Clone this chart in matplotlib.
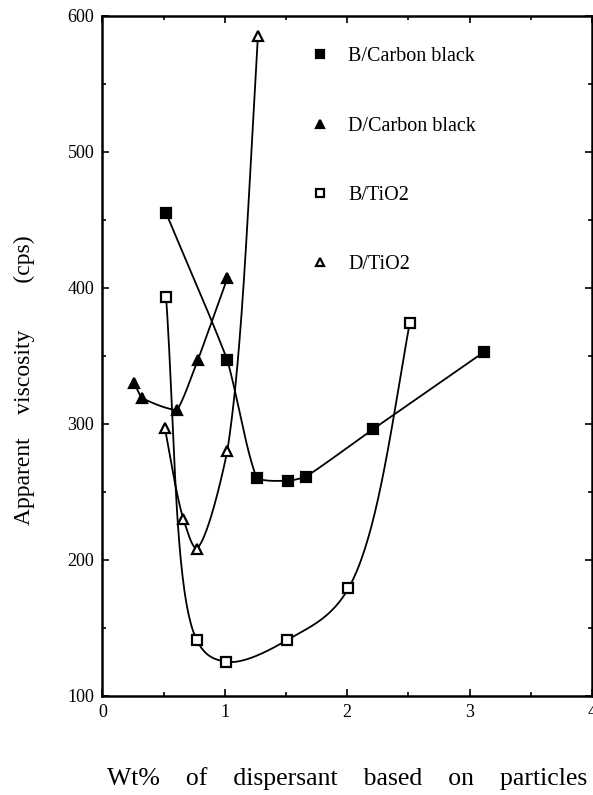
import numpy as np
import matplotlib
matplotlib.use("Agg")
import matplotlib.pyplot as plt
from matplotlib.lines import Line2D
from matplotlib.ticker import MultipleLocator

plt.rcParams['font.family'] = ['Liberation Serif', 'DejaVu Serif']

# dispersant B / D on carbon black and on TiO2
b_cb_x = [0.52, 1.02, 1.26, 1.52, 1.66, 2.21, 3.12]
b_cb_y = [455, 347, 260, 258, 261, 296, 353]
d_cb_x = [0.26, 0.32, 0.61, 0.78, 1.02]
d_cb_y = [330, 319, 310, 347, 407]
b_ti_x = [0.52, 0.77, 1.01, 1.51, 2.01, 2.51]
b_ti_y = [393, 141, 125, 141, 179, 374]
d_ti_x = [0.51, 0.66, 0.77, 1.02, 1.27]
d_ti_y = [297, 230, 208, 280, 585]

labels = ['B/Carbon black', 'D/Carbon black', 'B/TiO2', 'D/TiO2']

XLIM = (0, 4)
YLIM = (100, 600)


def smooth(x, y, k=1.0, quad_ends=False, n=40):
    # centripetal Catmull-Rom through the points (axis-normalised units),
    # blended with the straight polyline by k (0 = straight, 1 = full curve)
    px = (np.asarray(x, float) - XLIM[0]) / (XLIM[1] - XLIM[0])
    py = (np.asarray(y, float) - YLIM[0]) / (YLIM[1] - YLIM[0])
    P = np.column_stack([px, py])
    if quad_ends and len(P) > 2:
        head = 3 * P[0] - 3 * P[1] + P[2]
        tail = 3 * P[-1] - 3 * P[-2] + P[-3]
    else:
        head = 2 * P[0] - P[1]
        tail = 2 * P[-1] - P[-2]
    P = np.vstack([head, P, tail])
    out = []
    for i in range(1, len(P) - 2):
        p0, p1, p2, p3 = P[i - 1], P[i], P[i + 1], P[i + 2]
        t0 = 0.0
        t1 = t0 + np.linalg.norm(p1 - p0) ** 0.5
        t2 = t1 + np.linalg.norm(p2 - p1) ** 0.5
        t3 = t2 + np.linalg.norm(p3 - p2) ** 0.5
        t = np.linspace(t1, t2, n)[:, None]
        a1 = (t1 - t) / (t1 - t0) * p0 + (t - t0) / (t1 - t0) * p1
        a2 = (t2 - t) / (t2 - t1) * p1 + (t - t1) / (t2 - t1) * p2
        a3 = (t3 - t) / (t3 - t2) * p2 + (t - t2) / (t3 - t2) * p3
        b1 = (t2 - t) / (t2 - t0) * a1 + (t - t0) / (t2 - t0) * a2
        b2 = (t3 - t) / (t3 - t1) * a2 + (t - t1) / (t3 - t1) * a3
        c = (t2 - t) / (t2 - t1) * b1 + (t - t1) / (t2 - t1) * b2
        u = (t - t1) / (t2 - t1)
        lin = p1 + u * (p2 - p1)
        c = lin + k * (c - lin)
        out.append(c if i == 1 else c[1:])
    c = np.vstack(out)
    return (c[:, 0] * (XLIM[1] - XLIM[0]) + XLIM[0],
            c[:, 1] * (YLIM[1] - YLIM[0]) + YLIM[0])


fig = plt.figure(figsize=(5.93, 7.95), dpi=100)
ax = fig.add_axes([0.1728, 0.1249, 0.8255, 0.855])

series = [
    (b_cb_x, b_cb_y, 's', 'black', 0.35, False),
    (d_cb_x, d_cb_y, '^', 'black', 0.3, False),
    (b_ti_x, b_ti_y, 's', 'white', 1.0, True),
    (d_ti_x, d_ti_y, '^', 'white', 0.8, True),
]
for x, y, m, fc, k, qe in series:
    sx, sy = smooth(x, y, k=k, quad_ends=qe)
    ax.plot(sx, sy, color='black', lw=1.3, zorder=2)
    ax.plot(x, y, ls='none', marker=m, ms=7, mfc=fc, mec='black', mew=1.6, zorder=3)

handles = [Line2D([], [], ls='none', marker=m, ms=6, mfc=fc, mec='black', mew=1.6)
           for _, _, m, fc, _, _ in series]
ax.legend(handles, labels, loc='upper left', bbox_to_anchor=(0.424, 0.954),
          frameon=False, fontsize=14.5, labelspacing=2.49, handlelength=1.0,
          handletextpad=0.9, borderpad=0, borderaxespad=0)

ax.set_xlim(*XLIM)
ax.set_ylim(*YLIM)
ax.xaxis.set_major_locator(MultipleLocator(1))
ax.xaxis.set_minor_locator(MultipleLocator(0.5))
ax.yaxis.set_major_locator(MultipleLocator(100))
ax.yaxis.set_minor_locator(MultipleLocator(50))
ax.tick_params(which='both', direction='in', top=True, right=True,
               labelsize=13, width=1.2)
ax.tick_params(which='major', length=5, pad=6)
ax.tick_params(which='minor', length=3)
for s in ax.spines.values():
    s.set_linewidth(1.8)

ax.set_ylabel('Apparent    viscosity        (cps)', fontsize=17)
ax.yaxis.set_label_coords(-0.138, 0.4645)
ax.set_xlabel('Wt%    of    dispersant    based    on    particles', fontsize=18.5,
              labelpad=33)

fig.savefig('out.png', dpi=100)
